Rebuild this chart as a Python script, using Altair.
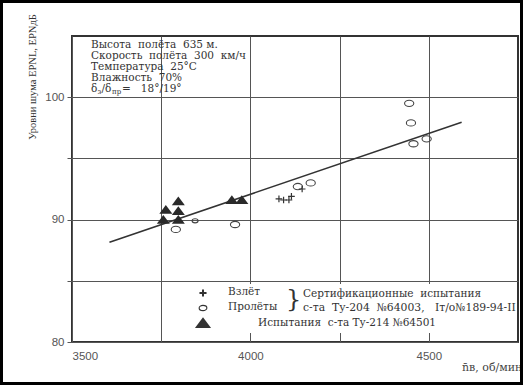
import altair as alt
import pandas as pd

# ---- data ----
takeoff_x = [4080, 4093, 4108, 4115, 4145]
takeoff_y = [91.7, 91.6, 91.6, 91.9, 92.5]

flyover_x = [3791, 3957, 4133, 4169, 4445, 4450, 4457, 4494]
flyover_y = [89.2, 89.6, 92.7, 93.0, 99.5, 97.9, 96.2, 96.6]

flyover_small_x = [3845]
flyover_small_y = [89.9]

tu214_x = [3756, 3763, 3798, 3798, 3798, 3948, 3976]
tu214_y = [90.0, 90.8, 91.5, 90.7, 90.0, 91.6, 91.6]

fit_x = [3605, 4592]
fit_y = [88.15, 97.95]

x_ticks = [3500, 3750, 4000, 4250, 4500]
y_ticks = [80, 85, 90, 95, 100]

conditions = [
    "Высота \u00a0полёта \u00a0635 м.",
    "Скорость \u00a0полёта \u00a0300 \u00a0км/ч",
    "Температура \u00a025°C",
    "Влажность \u00a070%",
]

W, H = 446, 306
INK = "#333333"
SERIF = "DejaVu Serif"

xs = alt.Scale(domain=[3500, 4750], nice=False, zero=False)
ys = alt.Scale(domain=[80, 105], nice=False, zero=False)

X = alt.X(
    "x:Q", scale=xs,
    axis=alt.Axis(values=x_ticks, grid=True, gridColor="#555", gridWidth=1,
                  ticks=False, domain=False, labelPadding=8,
                  labelExpr="datum.value % 500 === 0 ? format(datum.value, 'd') : ''",
                  labelFont="Liberation Sans", labelFontSize=11.5, labelColor="#555",
                  title=None),
)
Y = alt.Y(
    "y:Q", scale=ys,
    axis=alt.Axis(values=y_ticks, grid=True, gridColor="#555", gridWidth=1,
                  ticks=True, tickSize=5, tickColor="#555", domain=False, labelPadding=3,
                  labelExpr="datum.value % 10 === 0 ? format(datum.value, 'd') : ''",
                  labelFont="Liberation Sans", labelFontSize=11.5, labelColor="#555",
                  title=None),
)

plus_path = "M-1,0L1,0M0,-1L0,1"
ellipse_path = "M-1,0A1,0.68 0 1,1 1,0A1,0.68 0 1,1 -1,0Z"
tri_path = "M-1,0.62L1,0.62L0,-0.72Z"

one = pd.DataFrame({"k": [0]})


def txt(text, x, y, size=10.5, align="left", font=SERIF, color=INK, angle=0):
    return alt.Chart(one).mark_text(
        text=text, align=align, baseline="middle", fontSize=size,
        font=font, color=color, angle=angle
    ).encode(x=alt.value(x), y=alt.value(y))


def sym(shape, x, y, size, filled, sw=1.2):
    return alt.Chart(one).mark_point(
        shape=shape, size=size, filled=filled, color=INK, strokeWidth=sw, opacity=1
    ).encode(x=alt.value(x), y=alt.value(y))


fit = alt.Chart(pd.DataFrame({"x": fit_x, "y": fit_y})).mark_line(
    color=INK, strokeWidth=1.6).encode(x=X, y=Y)

tri = alt.Chart(pd.DataFrame({"x": tu214_x, "y": tu214_y})).mark_point(
    shape=tri_path, size=170, filled=True, color="#2a2a2a", opacity=1).encode(x=X, y=Y)

circ = alt.Chart(pd.DataFrame({"x": flyover_x, "y": flyover_y})).mark_point(
    shape=ellipse_path, size=85, filled=False, color="#444", strokeWidth=1.1, opacity=1
).encode(x=X, y=Y)

circ_small = alt.Chart(pd.DataFrame({"x": flyover_small_x, "y": flyover_small_y})).mark_point(
    shape=ellipse_path, size=36, filled=False, color="#444", strokeWidth=1.1, opacity=1
).encode(x=X, y=Y)

plus = alt.Chart(pd.DataFrame({"x": takeoff_x, "y": takeoff_y})).mark_point(
    shape=plus_path, size=45, filled=False, color=INK, strokeWidth=1.2, opacity=1
).encode(x=X, y=Y)

# white panel behind the legend
legend_bg = alt.Chart(one).mark_rect(color="white").encode(
    x=alt.value(113), x2=alt.value(441), y=alt.value(248), y2=alt.value(297))

layers = [legend_bg, fit, tri, circ, circ_small, plus]

# condition block (top-left)
for i, line in enumerate(conditions):
    layers.append(txt(line, 19, 9 + i * 10.9, size=10.5))
yb = 9 + 4 * 10.9
layers += [
    txt("δ", 19, yb, size=10.5),
    txt("з", 25.5, yb + 3, size=7),
    txt("/δ", 29.5, yb, size=10.5),
    txt("пр", 40, yb + 3, size=7),
    txt("= \u00a0 18°/19°", 50, yb, size=10.5),
]

# legend
layers += [
    sym(plus_path, 131, 257, 50, False, 2),
    sym(ellipse_path, 131, 272, 60, False, 1.1),
    sym(tri_path, 131, 287, 260, True),
    txt("Взлёт", 156, 256),
    txt("Пролёты", 156, 271),
    txt("}", 214, 264, size=24),
    txt("Сертификационные \u00a0испытания", 231, 258),
    txt("с-та \u00a0Ту-204 \u00a0№64003, \u00a0\u00a0Iт/о№189-94-II", 231, 272, size=10.8),
    txt("Испытания \u00a0с-та Ту-214 №64501", 186, 287),
]

# axis titles
layers += [
    txt("Уровни шума EPNL, EPNдБ", -39, 41, size=10.5, align="center", angle=270,
        font="Liberation Serif"),
    txt("n\u0304в, об/мин", 390, 332, size=11, color="#444"),
]

# outer scan frame
layers.append(
    alt.Chart(one).mark_rect(fill=None, stroke="black", strokeWidth=3).encode(
        x=alt.value(-70.5), x2=alt.value(449.5), y=alt.value(-34.5), y2=alt.value(347.5))
)

chart = alt.layer(*layers).properties(
    width=W, height=H,
    autosize=alt.AutoSizeParams(type="none"),
    padding={"left": 72, "top": 36, "right": 5, "bottom": 43},
    background="white",
).configure_view(stroke=INK, strokeWidth=2)

chart.save("out.html", embed_options={"renderer": "svg", "actions": False})
